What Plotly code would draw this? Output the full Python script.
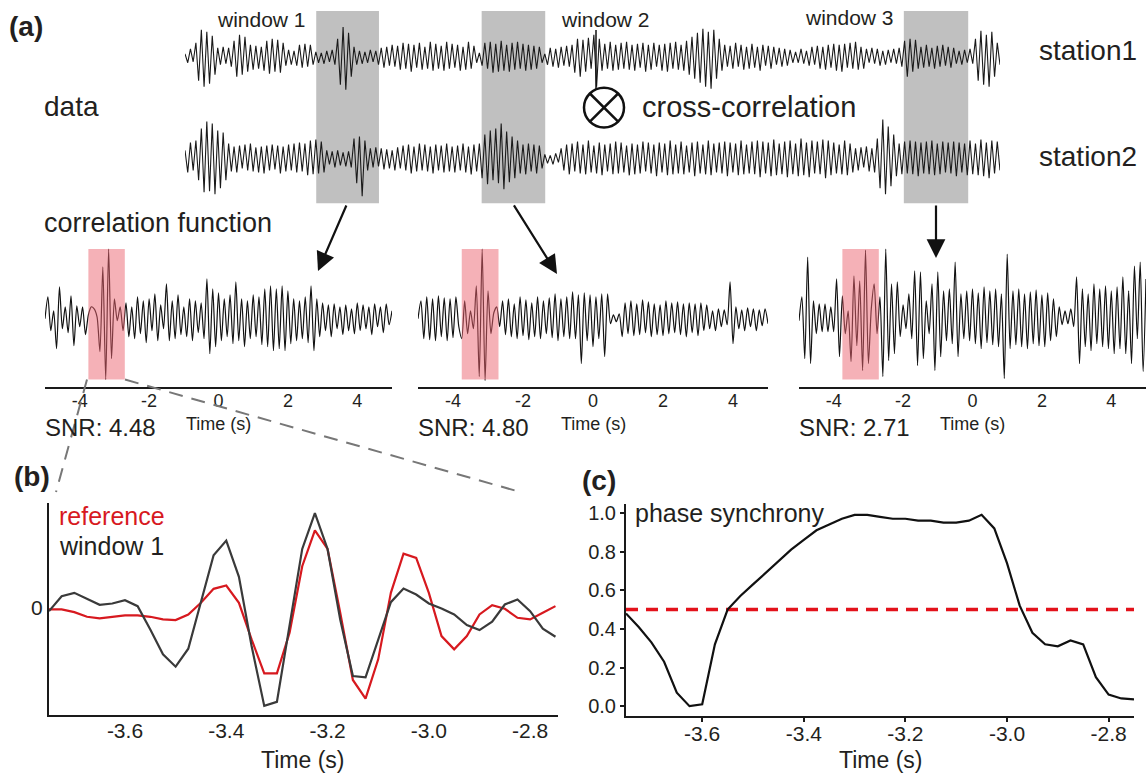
import numpy as np
import plotly.graph_objects as go

W, H = 1146, 773
FONT = "Liberation Sans, Arial, Helvetica, sans-serif"
TXT = "#231f20"

# ---------------- data ----------------
# raw seismic records (relative amplitude), equally spaced samples
station1 = [
    3, -6, 8, -5, 14, -24, 27, -30, 25, -27, 21, -18, 9, -8, 10, -7, 9, -10, 16, -20,
    22, -18, 20, -15, 12, -13, 11, -12, 10, -14, 16, -17, 18, -15, 17, -16, 14, -9, 7, -8,
    6, -9, 12, -11, 13, -10, 12, -8, 5, -6, 4, -7, 6, -5, 7, -8, 18, -28, 30, -33,
    24, -20, 10, -8, 6, -7, 5, -6, 7, -5, 6, -8, 9, -11, 10, -9, 12, -10, 11, -13,
    14, -12, 13, -15, 12, -11, 14, -13, 10, -12, 15, -14, 13, -12, 11, -14, 15, -12, 13, -11,
    12, -14, 10, -13, 15, -12, 11, -6, 4, -9, 14, -12, 15, -16, 13, -15, 16, -14, 12, -15,
    14, -13, 15, -12, 13, -14, 12, -13, 11, -12, 10, -6, 3, -8, 9, -10, 8, -11, 10, -9,
    11, -10, 12, -16, 18, -20, 17, -15, 19, -12, 22, -30, 18, -14, 13, -12, 15, -14, 12, -13,
    14, -12, 15, -13, 12, -14, 13, -11, 14, -15, 12, -13, 14, -10, 12, -14, 13, -15, 14, -12,
    15, -13, 12, -14, 16, -18, 20, -22, 24, -26, 28, -30, 25, -32, 27, -22, 18, -14, 12, -10,
    11, -12, 14, -10, 12, -13, 10, -12, 13, -11, 10, -14, 12, -9, 11, -12, 10, -8, 9, -10,
    8, -9, 7, -6, 5, -6, 8, -7, 6, -9, 10, -8, 11, -12, 10, -13, 12, -11, 13, -14,
    12, -15, 13, -11, 14, -12, 15, -13, 10, -12, 8, -6, 9, -7, 8, -9, 6, -8, 7, -6,
    8, -7, 9, -10, 16, -20, 18, -15, 17, -12, 10, -11, 12, -10, 9, -12, 11, -10, 12, -9,
    10, -11, 9, -7, 6, -8, 7, -6, 8, -7, 18, -24, 26, -28, 22, -30, 25, -20, 14, -8,
]
station2 = [
    8, -14, 16, -12, 18, -22, 30, -34, 37, -33, 35, -36, 28, -30, 26, -22, 15, -13, 12, -14,
    13, -10, 14, -12, 15, -13, 11, -14, 12, -15, 13, -12, 14, -11, 13, -15, 12, -13, 14, -12,
    15, -14, 16, -13, 15, -17, 18, -16, 19, -15, 17, -14, 8, -6, 7, -9, 8, -7, 6, -8,
    7, -9, 20, -25, 22, -38, 18, -12, 10, -9, 11, -8, 10, -11, 9, -10, 8, -12, 11, -10,
    13, -12, 14, -15, 12, -13, 15, -12, 14, -13, 12, -15, 14, -12, 13, -14, 15, -13, 12, -14,
    13, -12, 15, -14, 12, -16, 14, -13, 15, -20, 24, -26, 28, -22, 30, -25, 35, -31, 27, -24,
    22, -20, 18, -15, 14, -16, 15, -13, 14, -15, 13, -10, 4, -5, 3, -6, 5, -4, 10, -12,
    14, -16, 15, -13, 17, -15, 14, -16, 18, -14, 13, -15, 16, -17, 14, -13, 15, -16, 17, -15,
    16, -14, 13, -17, 15, -16, 14, -15, 17, -13, 16, -15, 14, -18, 16, -14, 15, -17, 18, -16,
    14, -15, 17, -16, 13, -14, 16, -18, 17, -15, 14, -16, 18, -17, 15, -14, 16, -15, 17, -18,
    16, -14, 15, -17, 18, -16, 14, -15, 17, -16, 18, -19, 17, -15, 16, -18, 19, -17, 15, -16,
    17, -19, 18, -16, 15, -18, 20, -17, 16, -19, 18, -15, 17, -16, 19, -20, 18, -17, 16, -15,
    14, -16, 18, -17, 15, -14, 10, -12, 11, -9, 12, -13, 10, -14, 20, -30, 39, -36, 32, -28,
    24, -18, 15, -16, 17, -15, 18, -16, 17, -18, 16, -15, 17, -16, 18, -17, 15, -16, 17, -14,
    16, -15, 17, -18, 16, -14, 15, -17, 18, -16, 15, -17, 19, -18, 16, -20, 18, -15, 17, -12,
]
# cross-correlation windows, as fractions of the record length
windows = [(0.161, 0.238), (0.364, 0.442), (0.882, 0.961)]
window_labels = ["window 1", "window 2", "window 3"]

# correlation functions (lag -5 s .. 5 s, relative amplitude)
corr_win1 = [
    0, 22, -12, 8, -30, 32, -10, 12, -14, 23, -27, 13, -8, 12, -16,
    4, 12, 10, 2, -33, 52, -61, 70, -40, 20, -2, 12, -12,
    16, -18, 12, -20, 22, -15, 18, -24, 20, -12, 25, -22, 14, -10, 35, -22, 18, -20,
    24, -16, 12, -18, 20, -22, 18, -14, 16, -20, 40, -35, 30, -28,
    26, -22, 20, -18, 24, -25, 37, -22, 20, -28, 18, -20, 24, -18, 22, -26,
    30, -28, 33, -32, 30, -30, 33, -32, 28, -25, 20, -22, 18, -20, 22, -24, 33, -32, 20, -18,
    16, -12, 14, -18, 15, -10, 12, -16, 14, -12, 10, -15, 16, -12, 14, -10, 12, -16, 15, -8,
    12, -14, 15, -6, 8,
]
corr_win2 = [
    0, 18, -20, 22, -21, 20, -22, 23, -18, 21, -22, 20, -19, 22, -8,
    -20, 18, -15, 8, -10, 33, -58, 70, -62, 28, -15, 6, 12, -8,
    18, -16, 20, -18, 15, -20, 22, -17, 19, -21, 16, -18, 22, -20, 18, -15, 21, -19, 25, -22,
    20, -18,
    22, -20, 27, -20, 24, -45, 26, -22, 24, -28, 22, -20, 25, -38, 25, -5, 4, -3, 5,
    -18, 16, -15, 18, -17, 15, -16, 19, -14, 17, -18, 15, -16, 14, -17, 18, -15, 16, -14, 17,
    -16, 15, -18, 16, -14, 15, -17, 16, -12, 14,
    -10, 8, -12, 10, -8, 9, -6, 37, -25, 12, -10, 9, -12, 11, -8, 10, -12, 9, -7, 10, -5,
]
corr_win3 = [
    -2, 22, -40, 62, -45, 18, -15, 15, -13, 15, -13, 12, -13,
    40, -38, 23, -15, 8, -43, 43, -27, 38, -52, 69, -45, 10, 35, -15,
    22, -58, 70, -42, 35, -35, 37, -18, 14, -10, 25, -20, 48, -47, 47, -40, 18, -15, 35, -52,
    47, -38, 28, -22, 30, -25, 57, -38, 25, -20,
    28, -22, 30, -25, 26, -30, 32, -24, 28, -26, 30, -28, 25, -60, 65,
    -30, 28, -26, 30, -28, 25, -30, 27, -25, 29, -27, 24, -28, 26, -22, 20, -18, 12,
    -6, 8, -5, 10,
    -8, 42, -45, 30, -28, 25, -32, 35, -25, 30, -28, 33, -30, 28, -35, 32, -30, 42, -35, 28,
    -45, 53, -20, 57, -53, 40,
]
corr_sets = [corr_win1, corr_win2, corr_win3]
snr_values = [4.48, 4.80, 2.71]
corr_ticks = [-4, -2, 0, 2, 4]
lag_limits = (-5, 5)
highlight = (-3.75, -2.7)        # zoomed lag window (s)
highlight_amp = (-61, 70)

# panel (b) / (c): zoomed window, 40 samples per second
t_start, dt = -3.75, 0.025
window1_b = [
    -0.10, 0.35, 0.45, 0.27, 0.09, 0.13, 0.23, 0.05, -0.65, -1.40,
    -1.77, -1.23, 0.15, 1.58, 2.02, 0.93, -1.15, -2.95, -2.83, -0.55,
    1.77, 2.85, 1.77, -0.35, -2.05, -2.09, -0.95, 0.17, 0.58, 0.40,
    0.13, -0.02, -0.20, -0.52, -0.67, -0.42, 0.10, 0.25, -0.10, -0.63,
    -0.87,
]
reference_b = [
    -0.05, -0.05, -0.13, -0.27, -0.32, -0.28, -0.23, -0.23, -0.27, -0.35,
    -0.37, -0.20, 0.15, 0.57, 0.67, 0.15, -0.95, -1.97, -1.97, -0.75,
    1.25, 2.33, 1.77, -0.15, -2.17, -2.73, -1.55, 0.45, 1.63, 1.50,
    0.45, -0.85, -1.25, -0.85, -0.20, 0.08, -0.03, -0.30, -0.35, -0.15,
    0.05,
]
phase_sync = [
    0.48, 0.41, 0.33, 0.23, 0.07, 0.00, 0.01, 0.32, 0.50, 0.57,
    0.63, 0.69, 0.75, 0.81, 0.86, 0.91, 0.94, 0.97, 0.99, 0.99,
    0.98, 0.97, 0.97, 0.96, 0.96, 0.95, 0.95, 0.96, 0.99, 0.92,
    0.74, 0.52, 0.38, 0.32, 0.31, 0.34, 0.32, 0.15, 0.06, 0.04,
    0.035,
]
threshold = 0.5
zoom_ticks = [-3.6, -3.4, -3.2, -3.0, -2.8]
sync_ticks = [0.0, 0.2, 0.4, 0.6, 0.8, 1.0]


# ---------------- helpers ----------------
def px(x):
    return x / W


def py(y):
    return 1 - y / H


def text(s, x, y, size, xa="left", ya="middle", color=TXT, **kw):
    d = dict(text=s, x=px(x), y=py(y), xref="paper", yref="paper", showarrow=False,
             xanchor=xa, yanchor=ya, font=dict(family=FONT, size=size, color=color))
    d.update(kw)
    return d


fig = go.Figure()
annotations = []
shapes = []

# ---------------- top records ----------------
for k, rec in enumerate([station1, station2]):
    n = len(rec)
    x = np.linspace(0, 1, n)
    fig.add_trace(go.Scatter(x=x, y=rec, mode="lines", line=dict(color="#1a1a1a", width=1.1),
                             xaxis="x" if k == 0 else "x2", yaxis="y" if k == 0 else "y2",
                             hoverinfo="skip", showlegend=False))

for (a, b) in windows:
    shapes.append(dict(type="rect", xref="x", yref="paper", x0=a, x1=b, y0=py(202), y1=py(9),
                       fillcolor="rgb(192,192,192)", line=dict(width=0), layer="below"))

# ---------------- correlation functions ----------------
corr_dom = [(45, 392), (418, 768), (799, 1146)]
for k, vals in enumerate(corr_sets):
    n = len(vals)
    lag = np.linspace(lag_limits[0], lag_limits[1], n)
    xa = "x%d" % (k + 3)
    ya = "y%d" % (k + 3)
    fig.add_trace(go.Scatter(x=lag, y=vals, mode="lines",
                             line=dict(color="#111", width=1.2, shape="spline", smoothing=0.7),
                             xaxis=xa, yaxis=ya, hoverinfo="skip", showlegend=False))
    shapes.append(dict(type="rect", xref=xa, yref=ya, x0=highlight[0], x1=highlight[1],
                       y0=highlight_amp[0], y1=highlight_amp[1],
                       fillcolor="rgb(236,100,112)", opacity=0.5, line=dict(width=0), layer="above"))
    annotations.append(dict(text="Time (s)", x=0, y=py(424), xref=xa, yref="paper",
                            showarrow=False, xanchor="center", yanchor="middle",
                            font=dict(family=FONT, size=18, color=TXT)))
    annotations.append(text("SNR: %.2f" % snr_values[k], corr_dom[k][0] - 2, 427, 24))

# ---------------- panel (b) ----------------
tb = t_start + dt * np.arange(len(window1_b))
fig.add_trace(go.Scatter(x=tb, y=reference_b, mode="lines", line=dict(color="#d7191f", width=2.2),
                         xaxis="x6", yaxis="y6", hoverinfo="skip", showlegend=False))
fig.add_trace(go.Scatter(x=tb, y=window1_b, mode="lines", line=dict(color="#3a3a3a", width=2.2),
                         xaxis="x6", yaxis="y6", hoverinfo="skip", showlegend=False))

# ---------------- panel (c) ----------------
tc = t_start + dt * np.arange(len(phase_sync))
fig.add_trace(go.Scatter(x=[tc[0], tc[-1]], y=[threshold, threshold], mode="lines",
                         line=dict(color="#e3121b", width=3.5, dash="12px,8px"),
                         xaxis="x7", yaxis="y7", hoverinfo="skip", showlegend=False))
fig.add_trace(go.Scatter(x=tc, y=phase_sync, mode="lines", line=dict(color="#111", width=2.2),
                         xaxis="x7", yaxis="y7", hoverinfo="skip", showlegend=False))

# ---------------- axes ----------------
layout = dict(
    width=W, height=H, autosize=False,
    margin=dict(l=0, r=0, t=0, b=0, pad=0),
    paper_bgcolor="white", plot_bgcolor="rgba(0,0,0,0)",
    font=dict(family=FONT, color=TXT),
    showlegend=False,
)
hidden = dict(visible=False, showgrid=False, zeroline=False, fixedrange=True)
layout["xaxis"] = dict(hidden, domain=[px(185), px(1000)], range=[0, 1], anchor="y")
layout["yaxis"] = dict(hidden, domain=[py(100), py(10)], range=[-45, 45], anchor="x")
layout["xaxis2"] = dict(hidden, domain=[px(185), px(1000)], range=[0, 1], anchor="y2")
layout["yaxis2"] = dict(hidden, domain=[py(202), py(112)], range=[-45, 45], anchor="x2")

for k in range(3):
    i = k + 3
    layout["xaxis%d" % i] = dict(domain=[px(corr_dom[k][0]), px(corr_dom[k][1])],
                                 range=list(lag_limits), anchor="y%d" % i,
                                 showline=True, linecolor="#1a1a1a", linewidth=2,
                                 showgrid=False, zeroline=False, ticks="",
                                 tickvals=corr_ticks, ticktext=[str(v) for v in corr_ticks],
                                 ticklabelstandoff=-3,
                                 tickfont=dict(family=FONT, size=18, color=TXT), fixedrange=True)
    layout["yaxis%d" % i] = dict(hidden, domain=[py(386), py(246)], range=[-68, 72],
                                 anchor="x%d" % i)

layout["xaxis6"] = dict(domain=[px(49), px(558)], range=[-3.75, -2.745], anchor="y6",
                        showline=True, linecolor="#1a1a1a", linewidth=2, showgrid=False,
                        zeroline=False, ticks="", tickvals=zoom_ticks,
                        ticktext=["%.1f" % v for v in zoom_ticks], ticklabelstandoff=-4,
                        tickfont=dict(family=FONT, size=21, color=TXT), fixedrange=True)
layout["yaxis6"] = dict(domain=[py(716), py(503)], range=[-3.23, 3.15], anchor="x6",
                        showline=True, linecolor="#1a1a1a", linewidth=2, showgrid=False,
                        zeroline=False, ticks="", tickvals=[0], ticktext=["0"],
                        tickfont=dict(family=FONT, size=21, color=TXT), fixedrange=True)
layout["xaxis7"] = dict(domain=[px(626), px(1134)], range=[-3.75, -2.75], anchor="y7",
                        showline=True, linecolor="#1a1a1a", linewidth=2, showgrid=False,
                        zeroline=False, ticks="outside", ticklen=4, tickwidth=1.5,
                        tickcolor="#1a1a1a", tickvals=zoom_ticks,
                        ticktext=["%.1f" % v for v in zoom_ticks], ticklabelstandoff=-6,
                        tickfont=dict(family=FONT, size=21, color=TXT), fixedrange=True)
layout["yaxis7"] = dict(domain=[py(717), py(504)], range=[-0.052, 1.046], anchor="x7",
                        showline=True, linecolor="#1a1a1a", linewidth=2, showgrid=False,
                        zeroline=False, ticks="outside", ticklen=4, tickwidth=1.5,
                        tickcolor="#1a1a1a", tickvals=sync_ticks,
                        ticktext=["%.1f" % v for v in sync_ticks],
                        tickfont=dict(family=FONT, size=20, color=TXT), fixedrange=True)

# ---------------- decorations ----------------
# cross-correlation symbol
cx, cy, r = 604, 106, 20
shapes.append(dict(type="circle", xref="paper", yref="paper", x0=px(cx - r), x1=px(cx + r),
                   y0=py(cy + r), y1=py(cy - r), line=dict(color="#111", width=2.5)))
d = r * 0.707
shapes.append(dict(type="line", xref="paper", yref="paper", x0=px(cx - d), y0=py(cy - d),
                   x1=px(cx + d), y1=py(cy + d), line=dict(color="#111", width=2.5)))
shapes.append(dict(type="line", xref="paper", yref="paper", x0=px(cx - d), y0=py(cy + d),
                   x1=px(cx + d), y1=py(cy - d), line=dict(color="#111", width=2.5)))
shapes.append(dict(type="line", xref="paper", yref="paper", x0=px(596), y0=py(28),
                   x1=px(596), y1=py(87), line=dict(color="#111", width=1.5)))

# zoom guide lines
shapes.append(dict(type="line", xref="paper", yref="paper", x0=px(87), y0=py(379),
                   x1=px(56), y1=py(492), line=dict(color="#777", width=2, dash="14px,9px")))
shapes.append(dict(type="line", xref="paper", yref="paper", x0=px(125), y0=py(379),
                   x1=px(517), y1=py(491), line=dict(color="#777", width=2, dash="14px,9px")))

# arrows from the windows to the correlation functions
for (tx, ty, hx, hy) in [(347, 203, 318, 270), (513, 203, 557, 273), (936, 203, 936, 257)]:
    annotations.append(dict(x=px(hx), y=py(hy), xref="paper", yref="paper", text="",
                            showarrow=True, ax=tx - hx, ay=ty - hy, axref="pixel", ayref="pixel",
                            arrowhead=2, arrowsize=1.7, arrowwidth=2.2, arrowcolor="#111",
                            standoff=0, startstandoff=0))

# labels
annotations += [
    text("<b>(a)</b>", 7, 25, 28),
    text("<b>(b)</b>", 12, 476, 28),
    text("<b>(c)</b>", 580, 480, 28),
    text(window_labels[0], 261, 18, 21, xa="center"),
    text(window_labels[1], 605, 18, 21, xa="center"),
    text(window_labels[2], 849, 16, 21, xa="center"),
    text("station1", 1037, 49, 28),
    text("station2", 1037, 155, 28),
    text("data", 42, 105, 28),
    text("correlation function", 42, 222, 27),
    text("cross-correlation", 640, 105, 29),
    text("reference", 57, 516, 25, color="#d7191f"),
    text("window 1", 57, 546, 25),
    text("phase synchrony", 633, 513, 25),
    text("Time (s)", 303, 761, 23, xa="center"),
    text("Time (s)", 880, 761, 23, xa="center"),
]

layout["shapes"] = shapes
layout["annotations"] = annotations
fig.update_layout(**layout)

fig.write_html("out.html", include_plotlyjs=True, config={"displayModeBar": False, "responsive": False})
